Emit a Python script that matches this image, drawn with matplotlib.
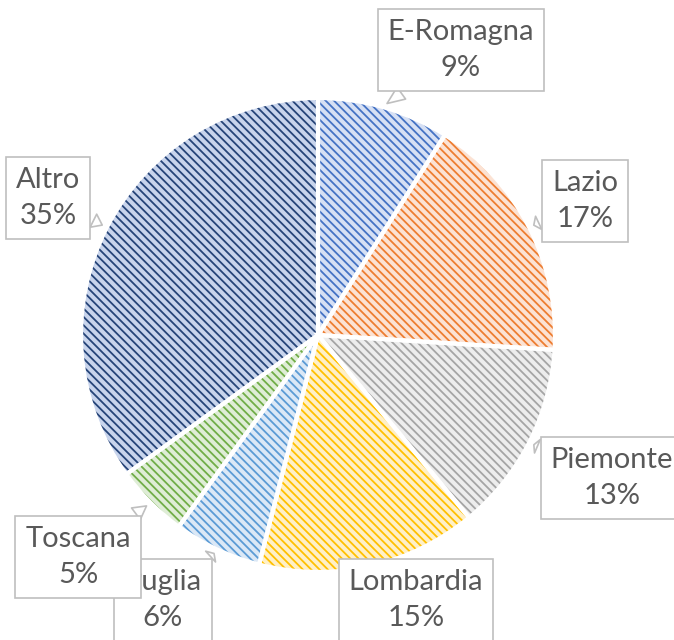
import numpy as np
import matplotlib
matplotlib.use("Agg")
import matplotlib.pyplot as plt

regions = ["E-Romagna", "Lazio", "Piemonte", "Lombardia", "Puglia", "Toscana", "Altro"]
shares = [9, 17, 13, 15, 6, 5, 35]

hatch_colors = ["#4472C4", "#ED7D31", "#A5A5A5", "#FFC000", "#5B9BD5", "#70AD47", "#264478"]
fill_colors = ["#D6E0F4", "#FCE2D3", "#EDEDED", "#FFF0C7", "#DBE8F6", "#DFEDD6", "#C8D4EC"]

# label box centres in pixel units (layout only)
label_pos = [(461, 50), (585, 201), (612, 478), (416, 600), (163, 600), (78, 557), (48, 198)]
label_z = [5, 5, 5, 5, 5, 6, 5]

W, H = 674, 640
cx, cy, R = 318, 335, 237

plt.rcParams["hatch.linewidth"] = 1.3
fig = plt.figure(figsize=(W / 100, H / 100), dpi=100)
ax = fig.add_axes([0, 0, 1, 1])

wedges, _ = ax.pie(shares, colors=fill_colors, startangle=90, counterclock=False,
                   center=(cx, H - cy), radius=R, frame=True,
                   wedgeprops=dict(linewidth=0))
for w, hc in zip(wedges, hatch_colors):
    w.set_hatch("\\\\\\\\")
    w.set_edgecolor(hc)
    w.set_linewidth(0)

# white separators
ax.pie(shares, colors=["none"] * len(shares), startangle=90, counterclock=False,
       center=(cx, H - cy), radius=R, frame=True,
       wedgeprops=dict(linewidth=3, edgecolor="white", fill=False))
ax.set_xlim(0, W)
ax.set_ylim(0, H)
ax.set_aspect("equal")
ax.axis("off")

total = sum(shares)
start = 90.0
for name, val, (lx, ly), z in zip(regions, shares, label_pos, label_z):
    span = val / total * 360
    mid = np.deg2rad(start - span / 2)
    start -= span
    px = cx + R * 1.01 * np.cos(mid)
    py = H - cy + R * 1.01 * np.sin(mid)
    ax.annotate(f"{name}\n{val}%", xy=(px, py), xytext=(lx, H - ly),
                ha="center", va="center", fontsize=21, family="Lato",
                color="#595959", linespacing=1.45, zorder=z,
                bbox=dict(boxstyle="square,pad=0.35", fc="white", ec="#BFBFBF", lw=1.2),
                arrowprops=dict(arrowstyle="wedge,tail_width=0.5", fc="white",
                                ec="#BFBFBF", lw=1.2))

fig.savefig("out.png", dpi=100)
